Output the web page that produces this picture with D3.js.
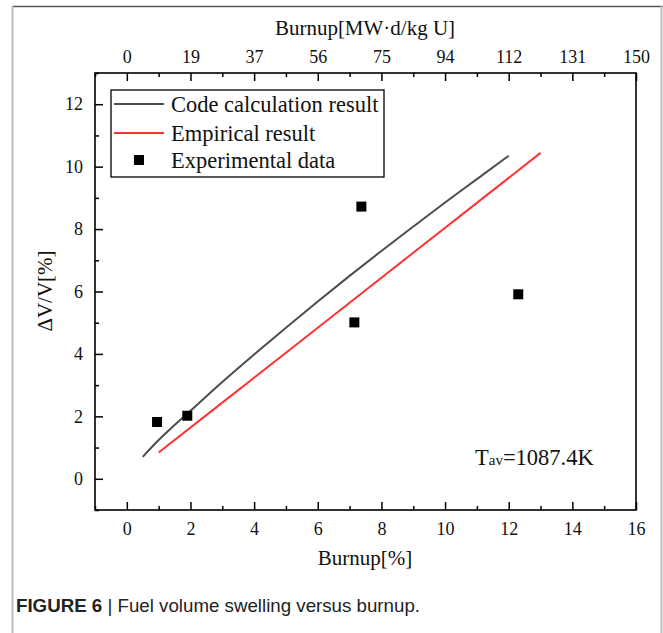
<!DOCTYPE html>
<html><head><meta charset="utf-8">
<script src="https://cdn.jsdelivr.net/npm/d3@7"></script>
<style>
html,body{margin:0;padding:0;background:#fff;}
svg{display:block;}
</style></head>
<body>
<svg id="chart" width="663" height="633"></svg>
<script>
// ---- data ----
const xTicksBottom = [0, 2, 4, 6, 8, 10, 12, 14, 16];
const xTickLabelsTop = ["0", "19", "37", "56", "75", "94", "112", "131", "150"];
const yTicks = [0, 2, 4, 6, 8, 10, 12];
const codeX = [0.5, 1, 1.5, 2, 3, 4, 5, 6, 7, 8, 9, 10, 11, 12];
const codeY = [0.70, 1.24, 1.72, 2.18, 3.10, 3.98, 4.84, 5.68, 6.50, 7.30, 8.08, 8.85, 9.60, 10.35];
const empX = [1, 3, 5, 7, 9, 11, 13];
const empY = [0.84, 2.44, 4.04, 5.64, 7.24, 8.84, 10.44];
const expX = [0.95, 1.9, 7.37, 7.15, 12.3];
const expY = [1.82, 2.02, 8.72, 5.01, 5.91];
const legendLabels = ["Code calculation result", "Empirical result", "Experimental data"];

const svg = d3.select("#chart");
const W = 663, H = 633;
const L = 95, R = 636, T = 73, B = 510;
const x = d3.scaleLinear().domain([-1, 16]).range([L, R]);
const y = d3.scaleLinear().domain([-1, 13]).range([B, T]);
const serif = "'Liberation Serif','Times New Roman',serif";

// outer figure border
svg.append("line").attr("x1", 12).attr("x2", 663).attr("y1", 6.5).attr("y2", 6.5)
  .attr("stroke", "#555").attr("stroke-width", 1.5);
svg.append("line").attr("x1", 12.5).attr("x2", 12.5).attr("y1", 6).attr("y2", H)
  .attr("stroke", "#bbb").attr("stroke-width", 2);
svg.append("line").attr("x1", 661.5).attr("x2", 661.5).attr("y1", 6).attr("y2", H)
  .attr("stroke", "#bbb").attr("stroke-width", 2);

// axes
const minorX = d3.range(-1, 17, 1).filter(v => v % 2 !== 0);
const minorY = d3.range(-1, 14, 1).filter(v => v % 2 !== 0);

svg.append("g").attr("transform", `translate(0,${B})`)
  .call(d3.axisBottom(x).tickValues(xTicksBottom).tickSizeInner(-8).tickSizeOuter(0).tickPadding(12));
svg.append("g").attr("transform", `translate(0,${B})`)
  .call(d3.axisBottom(x).tickValues(minorX).tickSize(-4).tickFormat(""));
svg.append("g").attr("transform", `translate(0,${T})`)
  .call(d3.axisTop(x).tickValues(xTicksBottom).tickSizeInner(-8).tickSizeOuter(0).tickPadding(10)
    .tickFormat((d, i) => xTickLabelsTop[i]));
svg.append("g").attr("transform", `translate(0,${T})`)
  .call(d3.axisTop(x).tickValues(minorX).tickSize(-4).tickFormat(""));
svg.append("g").attr("transform", `translate(${L},0)`)
  .call(d3.axisLeft(y).tickValues(yTicks).tickSizeInner(-8).tickSizeOuter(0).tickPadding(12));
svg.append("g").attr("transform", `translate(${L},0)`)
  .call(d3.axisLeft(y).tickValues(minorY).tickSize(-4).tickFormat(""));

svg.selectAll(".domain").remove();
svg.selectAll(".tick line").attr("stroke", "#000").attr("stroke-width", 1.5);
svg.selectAll(".tick text").attr("font-family", serif).attr("font-size", 18).attr("fill", "#111");

// frame
svg.append("rect").attr("x", L).attr("y", T).attr("width", R - L).attr("height", B - T)
  .attr("fill", "none").attr("stroke", "#000").attr("stroke-width", 1.6);

// lines
const line = d3.line().x(d => x(d[0])).y(d => y(d[1])).curve(d3.curveMonotoneX);
svg.append("path").datum(codeX.map((v, i) => [v, codeY[i]]))
  .attr("d", line).attr("fill", "none").attr("stroke", "#4d4d4d").attr("stroke-width", 2);
svg.append("path").datum(empX.map((v, i) => [v, empY[i]]))
  .attr("d", d3.line().x(d => x(d[0])).y(d => y(d[1])))
  .attr("fill", "none").attr("stroke", "#ff3333").attr("stroke-width", 2);

// experimental points
const sq = 10;
svg.selectAll("rect.pt").data(expX.map((v, i) => [v, expY[i]])).enter().append("rect")
  .attr("class", "pt").attr("x", d => x(d[0]) - sq / 2).attr("y", d => y(d[1]) - sq / 2)
  .attr("width", sq).attr("height", sq).attr("fill", "#000");

// legend
svg.append("rect").attr("x", 111).attr("y", 90).attr("width", 273).attr("height", 87)
  .attr("fill", "#fff").attr("stroke", "#000").attr("stroke-width", 1.3);
const ly = [104, 133, 160];
svg.append("line").attr("x1", 114).attr("x2", 164).attr("y1", ly[0]).attr("y2", ly[0])
  .attr("stroke", "#4d4d4d").attr("stroke-width", 2);
svg.append("line").attr("x1", 114).attr("x2", 164).attr("y1", ly[1]).attr("y2", ly[1])
  .attr("stroke", "#ff3333").attr("stroke-width", 2);
svg.append("rect").attr("x", 139 - sq / 2).attr("y", ly[2] - sq / 2).attr("width", sq).attr("height", sq).attr("fill", "#000");
legendLabels.forEach((t, i) => {
  svg.append("text").attr("x", 171).attr("y", ly[i]).attr("dy", "0.35em")
    .attr("font-family", serif).attr("font-size", 22.5).attr("fill", "#111").text(t);
});

// annotation
const ann = svg.append("text").attr("x", 475).attr("y", 465)
  .attr("font-family", serif).attr("font-size", 22.5).attr("fill", "#111");
ann.append("tspan").text("T");
ann.append("tspan").attr("font-size", 15).text("av");
ann.append("tspan").text("=1087.4K");

// axis titles
svg.append("text").attr("x", 365).attr("y", 35).attr("text-anchor", "middle")
  .attr("font-family", serif).attr("font-size", 21).attr("fill", "#111").text("Burnup[MW·d/kg U]");
svg.append("text").attr("x", 365).attr("y", 565).attr("text-anchor", "middle")
  .attr("font-family", serif).attr("font-size", 21).attr("fill", "#111").text("Burnup[%]");
svg.append("text").attr("transform", "translate(52,291) rotate(-90)").attr("text-anchor", "middle")
  .attr("font-family", serif).attr("font-size", 21).attr("fill", "#111").text("ΔV/V[%]");

// caption
const cap = svg.append("text").attr("x", 16).attr("y", 612)
  .attr("font-family", "'Liberation Sans',Arial,sans-serif").attr("font-size", 18.5).attr("fill", "#222")
  .attr("textLength", 404).attr("lengthAdjust", "spacingAndGlyphs");
cap.append("tspan").attr("font-weight", "bold").text("FIGURE 6");
cap.append("tspan").text(" | Fuel volume swelling versus burnup.");
</script>
</body></html>
